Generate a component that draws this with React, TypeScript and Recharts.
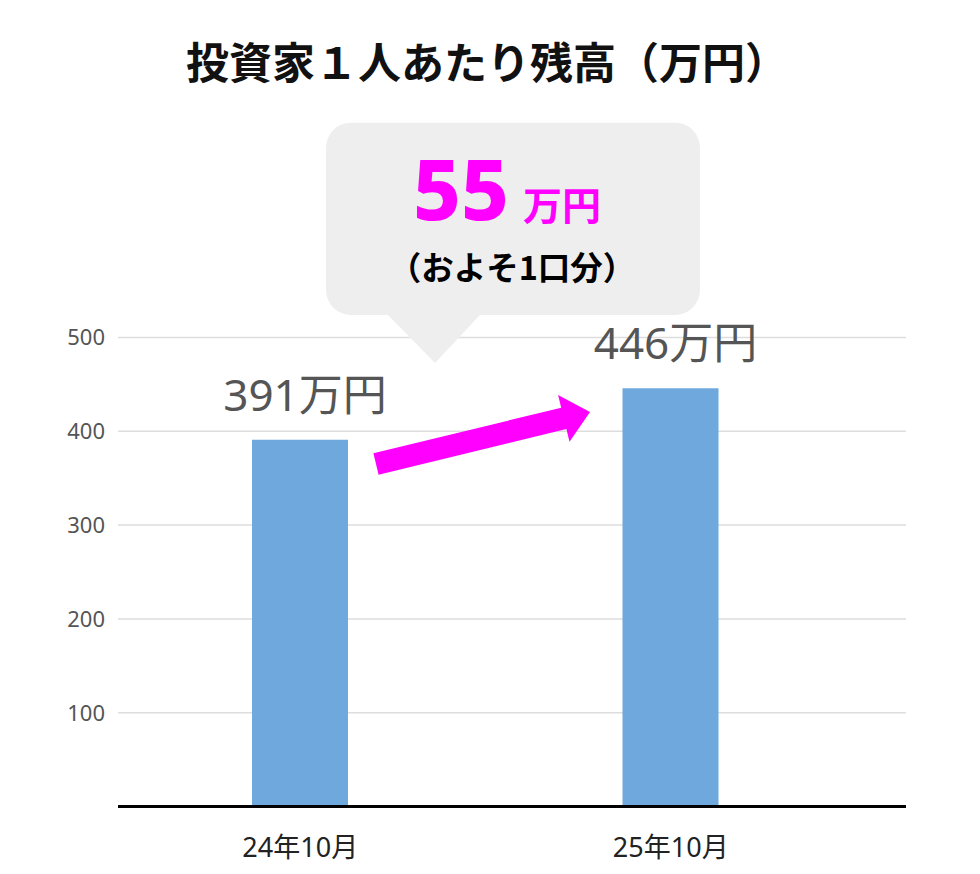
import React from 'react';
import { BarChart, Bar, XAxis, YAxis, CartesianGrid, LabelList } from 'recharts';

const categories = ['24年10月', '25年10月'];
const balances = [391, 446];
const yTicks = [100, 200, 300, 400, 500];
const unitLabel = '万円';
const titleText = '投資家１人あたり残高（万円）';
const diffValue = 55;
const diffNote = '（およそ1口分）';

const data = categories.map((name, i) => ({ name, value: balances[i] }));

const FONT = "'Noto Sans', 'Noto Sans CJK JP', sans-serif";
const CJK = "'Noto Sans CJK JP', 'Noto Sans', sans-serif";

const BarValueLabel = (props: any) => {
  const { x, y, width, value } = props;
  return (
    <text
      x={Number(x) + Number(width) / 2 + 5}
      y={Number(y) - 29}
      textAnchor="middle"
      fontSize={44}
      fill="#555555"
      fontFamily={FONT}
    >
      {`${value}${unitLabel}`}
    </text>
  );
};

export default function App() {
  return (
    <div style={{ position: 'absolute', left: 0, top: 0, width: 980, height: 874, background: '#ffffff' }}>
      <BarChart
        width={980}
        height={874}
        data={data}
        margin={{ top: 337.5, right: 74, bottom: 7.5, left: 58 }}
      >
        <CartesianGrid vertical={false} stroke="#dddddd" strokeWidth={1.5} />
        <YAxis
          width={60}
          domain={[0, 500]}
          ticks={yTicks}
          axisLine={false}
          tickLine={false}
          tickMargin={7}
          tick={{ fill: '#555555', fontSize: 22, fontFamily: FONT }}
        />
        <XAxis
          dataKey="name"
          height={60}
          padding={{ left: -3, right: 50 }}
          axisLine={{ stroke: '#000000', strokeWidth: 3 }}
          tickLine={false}
          tickMargin={25}
          tick={{ fill: '#222222', fontSize: 27, fontFamily: FONT }}
        />
        <Bar dataKey="value" fill="#6fa8dc" barSize={96} isAnimationActive={false}>
          <LabelList dataKey="value" content={BarValueLabel} />
        </Bar>
      </BarChart>
      <svg
        width={980}
        height={874}
        style={{ position: 'absolute', left: 0, top: 0, pointerEvents: 'none' }}
      >
        <text x={487} y={79} textAnchor="middle" fontSize={43} fontWeight={700} fill="#111111" fontFamily={CJK}>
          {titleText}
        </text>
        <path
          d="M351,122.7 H675 A25,25 0 0 1 700,147.7 V290 A25,25 0 0 1 675,315 H480 L435,363 L388,315 H351 A25,25 0 0 1 326,290 V147.7 A25,25 0 0 1 351,122.7 Z"
          fill="#eeeeee"
        />
        <text x={413} y={220} fill="#ff00ff" fontFamily={FONT}>
          <tspan fontSize={83} fontWeight={800}>{diffValue}</tspan>
          <tspan fontSize={39} fontWeight={700} fontFamily={CJK} dx={14}>{unitLabel}</tspan>
        </text>
        <text x={512} y={280} textAnchor="middle" fontSize={32.5} fontWeight={700} fill="#000000" fontFamily={CJK}>
          {diffNote}
        </text>
        <polygon
          points="373.4,453.3 561.2,407.7 558.1,395.1 590,412 569.5,441.7 566.4,429.1 378.6,474.7"
          fill="#ff00ff"
        />
      </svg>
    </div>
  );
}
